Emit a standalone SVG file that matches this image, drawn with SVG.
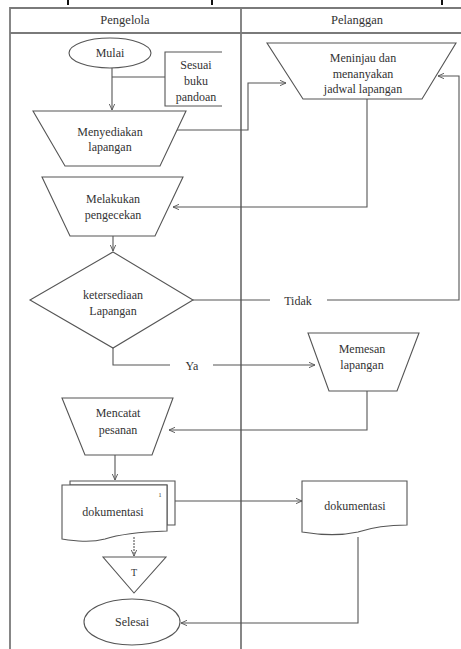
<svg xmlns="http://www.w3.org/2000/svg" width="461" height="649" viewBox="0 0 461 649">
<style>
.frame{stroke:#7a7a7a;stroke-width:1.8;fill:none}
.shape{fill:#fff;stroke:#555;stroke-width:1.1}
.conn{fill:none;stroke:#555;stroke-width:1.1}
text{font-family:"Liberation Serif","DejaVu Serif","Times New Roman",serif;font-size:12px;fill:#333;text-anchor:middle}
.hdr{font-size:12.5px}
</style>
<defs>
<marker id="arr" viewBox="0 0 10 10" refX="9" refY="5" markerWidth="7" markerHeight="7" orient="auto" markerUnits="userSpaceOnUse">
<path d="M0,1 L9,5 L0,9" fill="none" stroke="#555" stroke-width="1.3"/>
</marker>
</defs>
<rect width="461" height="649" fill="#fff"/>
<g id="topmarks" fill="#111">
<rect x="67" y="0" width="2" height="5"/>
<rect x="211" y="0" width="2" height="5"/>
<rect x="441" y="0" width="2" height="5"/>
</g>
<g id="lanes">
<path class="frame" d="M10,649 V8 H461 M10,33 H461 M241,8 V649"/>
<text class="hdr" x="125" y="24">Pengelola</text>
<text class="hdr" x="357" y="24">Pelanggan</text>
</g>
<g id="connectors">
<path class="conn" d="M112,68 V110" marker-end="url(#arr)"/>
<path class="conn" d="M112,77 H165 M222,52 H165 V106 H222"/>
<path class="conn" d="M176,130 H248 V83 H286" marker-end="url(#arr)"/>
<path class="conn" d="M367,99 V207 H173" marker-end="url(#arr)"/>
<path class="conn" d="M113,236 V251" marker-end="url(#arr)"/>
<path class="conn" d="M193,300 H270 M327,300 H459 V76 H438" marker-end="url(#arr)"/>
<path class="conn" d="M113,348 V365 H170 M213,365 H315" marker-end="url(#arr)"/>
<path class="conn" d="M367,391 V430 H169" marker-end="url(#arr)"/>
<path class="conn" d="M115,455 V480" marker-end="url(#arr)"/>
<path class="conn" d="M175,501 H302" marker-end="url(#arr)"/>
<path class="conn" d="M134,537 V556" stroke-dasharray="2,1" marker-end="url(#arr)"/>
<path class="conn" d="M358,537 V623 H181" marker-end="url(#arr)"/>
<text x="298" y="305">Tidak</text>
<text x="192" y="370">Ya</text>
</g>
<g id="mulai">
<ellipse class="shape" cx="110" cy="53" rx="41" ry="15"/>
<text x="110" y="57">Mulai</text>
</g>
<g id="sesuai">
<text x="196" y="69">Sesuai</text>
<text x="196" y="85">buku</text>
<text x="196" y="101">pandoan</text>
</g>
<g id="menyediakan">
<polygon class="shape" points="33,111 186,111 160,166 65,166"/>
<text x="110" y="136">Menyediakan</text>
<text x="110" y="151">lapangan</text>
</g>
<g id="meninjau">
<polygon class="shape" points="267,43 456,43 422,99 303,99"/>
<text x="363" y="62">Meninjau dan</text>
<text x="363" y="78">menanyakan</text>
<text x="363" y="93">jadwal lapangan</text>
</g>
<g id="melakukan">
<polygon class="shape" points="42,177 183,177 155,236 70,236"/>
<text x="113" y="203">Melakukan</text>
<text x="113" y="219">pengecekan</text>
</g>
<g id="ketersediaan">
<polygon class="shape" points="113,252 193,300 113,348 30,300"/>
<text x="113" y="299">ketersediaan</text>
<text x="113" y="315">Lapangan</text>
</g>
<g id="memesan">
<polygon class="shape" points="308,333 419,333 397,391 329,391"/>
<text x="362" y="353">Memesan</text>
<text x="362" y="369">lapangan</text>
</g>
<g id="mencatat">
<polygon class="shape" points="62,398 173,398 152,455 85,455"/>
<text x="118" y="417">Mencatat</text>
<text x="118" y="434">pesanan</text>
</g>
<g id="dokumentasi1">
<path class="shape" d="M70,481 H175 V525 H167 V485 H70 Z"/>
<path class="shape" d="M62,485 H167 V531 C140,532 120,534 105,539 C90,543 75,541 62,539 Z"/>
<text x="160" y="497" style="font-size:6px">1</text>
<text x="113" y="516">dokumentasi</text>
</g>
<g id="dokumentasi2">
<path class="shape" d="M302,481 H407 V525 C385,525 370,528 358,532 C340,536 320,535 302,532 Z"/>
<text x="355" y="510">dokumentasi</text>
</g>
<g id="t">
<polygon class="shape" points="103,557 166,557 134,593"/>
<text x="134" y="576" style="font-size:10px">T</text>
</g>
<g id="selesai">
<ellipse class="shape" cx="132" cy="622" rx="48" ry="23"/>
<text x="132" y="626">Selesai</text>
</g>
</svg>
